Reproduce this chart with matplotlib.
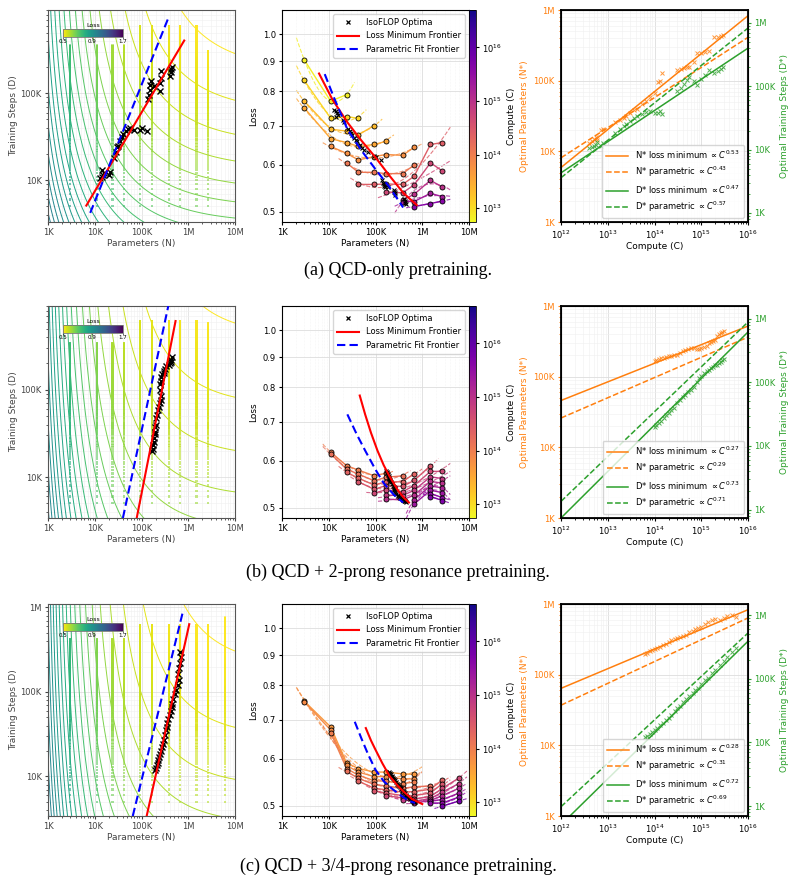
import numpy as np
import matplotlib.pyplot as plt
from matplotlib.colors import LogNorm
from matplotlib.cm import ScalarMappable
from matplotlib.lines import Line2D
from matplotlib.ticker import FuncFormatter, NullLocator, NullFormatter, FixedLocator

plt.rcParams['font.family'] = 'DejaVu Sans'
plt.rcParams['font.size'] = 6
plt.rcParams['xtick.labelsize'] = 6
plt.rcParams['ytick.labelsize'] = 6
plt.rcParams['axes.labelsize'] = 6.5
plt.rcParams['xtick.major.size'] = 2.5
plt.rcParams['ytick.major.size'] = 2.5
plt.rcParams['xtick.minor.size'] = 1.5
plt.rcParams['ytick.minor.size'] = 1.5
plt.rcParams['xtick.major.pad'] = 2
plt.rcParams['ytick.major.pad'] = 2

# ------------------------------------------------------------------
# datos
# ------------------------------------------------------------------
# tamaños de modelo entrenados (parametros)
model_sizes = [3e3, 1.1e4, 2.4e4, 4.3e4, 9.4e4, 1.67e5, 3.8e5, 6.7e5, 1.5e6, 2.7e6, 6.1e6]
ckpt_first = 5000   # primer checkpoint
ckpt_every = 1000   # paso entre checkpoints

# ---- (a) QCD-only -------------------------------------------------
fit_a = [0.43, 5.92, 0.40, 2.63, 0.30]          # E, A, alpha, B, beta
ckpt_max_a = [3.55e5, 3.55e5, 3.55e5, 3.55e5, 6e5, 6e5, 6e5, 6e5, 6e5, 3.1e5]

opt_C_a = [4.0e12, 4.5e12, 5.0e12, 5.5e12, 6.0e12, 7.0e12, 8.0e12, 1.4e13, 1.8e13, 2.2e13,
           2.5e13, 3.0e13, 3.6e13, 4.3e13, 5.5e13, 6.5e13, 8.0e13, 1.05e14, 1.2e14, 1.3e14,
           1.45e14, 3.0e14, 3.6e14, 4.2e14, 5.0e14, 5.6e14, 7.0e14, 8.0e14, 1.0e15, 1.2e15,
           1.5e15, 1.9e15, 2.3e15, 2.6e15, 2.9e15]
opt_N_a = [13e3, 14e3, 15e3, 16e3, 14.5e3, 20e3, 21e3, 26e3, 28e3, 30e3,
           32e3, 35e3, 38e3, 40e3, 47e3, 52e3, 58e3, 68e3, 95e3, 100e3,
           128e3, 140e3, 145e3, 150e3, 155e3, 158e3, 185e3, 245e3, 250e3, 255e3,
           262e3, 410e3, 420e3, 430e3, 440e3]
opt_D_a = [10.5e3, 11e3, 11.5e3, 12e3, 13e3, 11.5e3, 12.5e3, 18e3, 21e3, 24e3,
           25e3, 28e3, 31e3, 34e3, 37e3, 39e3, 40e3, 38e3, 38e3, 40e3,
           37e3, 85e3, 95e3, 110e3, 125e3, 140e3, 120e3, 105e3, 130e3, 150e3,
           180e3, 160e3, 175e3, 190e3, 200e3]
opt_L_a = [0.745, 0.74, 0.735, 0.73, 0.725, 0.715, 0.71, 0.69, 0.685, 0.68,
           0.675, 0.668, 0.662, 0.658, 0.648, 0.642, 0.636, 0.63, 0.622, 0.62,
           0.612, 0.565, 0.56, 0.556, 0.552, 0.55, 0.55, 0.545, 0.54, 0.537,
           0.533, 0.525, 0.521, 0.518, 0.515]

iso_C_a = [7e12, 1.2e13, 2.2e13, 3.5e13, 6e13, 1.2e14, 2.5e14, 5e14, 1e15, 2e15, 4e15]
iso_N_a = [[3e3, 1.1e4, 2.4e4],
           [3e3, 1.1e4, 2.4e4, 4.3e4],
           [3e3, 1.1e4, 2.4e4, 4.3e4, 9.4e4],
           [3e3, 1.1e4, 2.4e4, 4.3e4, 9.4e4, 1.67e5],
           [1.1e4, 2.4e4, 4.3e4, 9.4e4, 1.67e5, 3.8e5, 6.7e5],
           [2.4e4, 4.3e4, 9.4e4, 1.67e5, 3.8e5, 6.7e5],
           [4.3e4, 9.4e4, 1.67e5, 3.8e5, 6.7e5, 1.5e6, 2.7e6],
           [1.67e5, 3.8e5, 6.7e5, 1.5e6, 2.7e6],
           [3.8e5, 6.7e5, 1.5e6, 2.7e6],
           [3.8e5, 6.7e5, 1.5e6, 2.7e6],
           [6.7e5, 1.5e6, 2.7e6]]
iso_L_a = [[0.905, 0.77, 0.79],
           [0.835, 0.72, 0.725, 0.72],
           [0.77, 0.69, 0.685, 0.675, 0.70],
           [0.75, 0.665, 0.655, 0.645, 0.65, 0.658],
           [0.645, 0.628, 0.612, 0.62, 0.625, 0.623, 0.643],
           [0.605, 0.583, 0.583, 0.58, 0.58, 0.60],
           [0.556, 0.556, 0.557, 0.556, 0.574, 0.65, 0.655],
           [0.54, 0.538, 0.555, 0.605, 0.586],
           [0.523, 0.535, 0.565, 0.55],
           [0.52, 0.52, 0.537, 0.53],
           [0.51, 0.516, 0.521]]

red_N_a = [6.2e3, 1.2e4, 2.5e4, 5e4, 1e5, 2e5, 4e5, 7.6e5]
red_L_a = [0.858, 0.775, 0.709, 0.66, 0.618, 0.575, 0.537, 0.513]
blue_N_a = [8.2e3, 1.3e4, 2.5e4, 5e4, 1e5, 2e5, 3.9e5]
blue_L_a = [0.856, 0.78, 0.69, 0.635, 0.59, 0.55, 0.508]

left_red_a = [[6.6e3, 8.2e5], [5.1e3, 4.05e5]]
left_blue_a = [[8.0e3, 3.92e5], [4.2e3, 7.82e5]]

right_lines_a = [[5.9e3, 8.3e5], [8.1e3, 4.1e5], [4.3e3, 4.0e5], [3.6e3, 8.3e5]]
right_exp_a = ['0.53', '0.43', '0.47', '0.57']

# ---- (b) QCD + 2-prong --------------------------------------------
fit_b = [0.439, 12.73, 0.50, 0.81, 0.20]
ckpt_max_b = [3.4e5, 3.4e5, 3.4e5, 3.4e5, 6.1e5, 6.1e5, 6.1e5, 6.1e5, 6.1e5, 5.75e5]

opt_C_b = [1.0e14, 1.1e14, 1.25e14, 1.4e14, 1.6e14, 1.8e14, 2.0e14, 2.3e14, 2.6e14, 3.0e14,
           3.5e14, 4.0e14, 4.6e14, 5.3e14, 6.0e14, 7.0e14, 8.0e14, 9.0e14, 1.0e15, 1.15e15,
           1.3e15, 1.45e15, 1.6e15, 1.8e15, 2.0e15, 2.2e15, 2.4e15, 2.6e15, 2.8e15, 3.0e15]
opt_N_b = [168e3, 172e3, 178e3, 182e3, 186e3, 190e3, 195e3, 198e3, 202e3, 205e3,
           215e3, 230e3, 240e3, 250e3, 255e3, 258e3, 250e3, 245e3, 255e3, 265e3,
           275e3, 300e3, 310e3, 320e3, 330e3, 380e3, 400e3, 420e3, 430e3, 440e3]
opt_D_b = [20e3, 21e3, 23e3, 25e3, 28e3, 31e3, 33e3, 37e3, 40e3, 47e3,
           52e3, 58e3, 63e3, 70e3, 77e3, 85e3, 100e3, 115e3, 125e3, 140e3,
           150e3, 155e3, 165e3, 175e3, 185e3, 190e3, 200e3, 210e3, 222e3, 235e3]
opt_L_b = [0.578, 0.575, 0.572, 0.57, 0.567, 0.565, 0.562, 0.56, 0.557, 0.555,
           0.552, 0.548, 0.545, 0.542, 0.54, 0.538, 0.537, 0.536, 0.533, 0.53,
           0.528, 0.526, 0.524, 0.522, 0.52, 0.518, 0.516, 0.514, 0.513, 0.512]

iso_C_b = [1e14, 1.5e14, 2.2e14, 3.3e14, 5e14, 7.5e14, 1.1e15, 1.6e15, 2.4e15, 3.5e15, 5e15]
iso_N_b = [[1.1e4, 2.4e4, 4.3e4, 9.4e4, 1.67e5],
           [1.1e4, 2.4e4, 4.3e4, 9.4e4, 1.67e5, 3.8e5],
           [2.4e4, 4.3e4, 9.4e4, 1.67e5, 3.8e5, 6.7e5],
           [4.3e4, 9.4e4, 1.67e5, 3.8e5, 6.7e5, 1.5e6],
           [9.4e4, 1.67e5, 3.8e5, 6.7e5, 1.5e6, 2.7e6],
           [1.67e5, 3.8e5, 6.7e5, 1.5e6, 2.7e6],
           [1.67e5, 3.8e5, 6.7e5, 1.5e6, 2.7e6],
           [6.7e5, 1.5e6, 2.7e6],
           [6.7e5, 1.5e6, 2.7e6],
           [1.5e6, 2.7e6],
           [1.5e6, 2.7e6]]
iso_L_b = [[0.621, 0.589, 0.579, 0.566, 0.572],
           [0.617, 0.581, 0.57, 0.555, 0.563, 0.566],
           [0.574, 0.561, 0.546, 0.553, 0.553, 0.571],
           [0.553, 0.537, 0.545, 0.543, 0.556, 0.589],
           [0.529, 0.536, 0.532, 0.545, 0.576, 0.576],
           [0.525, 0.524, 0.535, 0.564, 0.56],
           [0.517, 0.515, 0.525, 0.554, 0.55],
           [0.516, 0.544, 0.54],
           [0.507, 0.535, 0.53],
           [0.528, 0.52],
           [0.522, 0.514]]

red_N_b = [4.6e4, 6e4, 8e4, 1.1e5, 1.5e5, 2e5, 3e5, 4e5, 5.2e5]
red_L_b = [0.775, 0.72, 0.67, 0.625, 0.59, 0.565, 0.535, 0.52, 0.51]
blue_N_b = [2.5e4, 4e4, 6e4, 1e5, 1.5e5, 2.5e5, 3.9e5]
blue_L_b = [0.72, 0.665, 0.625, 0.58, 0.55, 0.525, 0.51]

left_red_b = [[7.9e4, 5.35e5], [3.4e3, 6.12e5]]
left_blue_b = [[4.0e4, 3.74e5], [3.4e3, 9.08e5]]

right_lines_b = [[4.6e4, 5.2e5], [2.6e4, 3.63e5], [7.4e2, 6.17e5], [1.35e3, 8.85e5]]
right_exp_b = ['0.27', '0.29', '0.73', '0.71']

# ---- (c) QCD + 3/4-prong ------------------------------------------
fit_c = [0.449, 14.3, 0.50, 0.767, 0.222]
ckpt_max_c = [4.2e5, 4.2e5, 4.2e5, 4.2e5, 6.2e5, 6.2e5, 6.2e5, 6.2e5, 6.2e5, 6.2e5, 7.6e5]

opt_C_c = [6.3e13, 7e13, 8e13, 9e13, 1.0e14, 1.15e14, 1.3e14, 1.5e14, 1.75e14, 2.0e14,
           2.3e14, 2.7e14, 3.1e14, 3.5e14, 4.0e14, 4.7e14, 5.5e14, 6.5e14, 7.5e14, 8.5e14,
           1.0e15, 1.2e15, 1.4e15, 1.7e15, 2.0e15, 2.5e15, 3.0e15, 3.6e15, 4.5e15, 5.5e15]
opt_N_c = [195e3, 205e3, 215e3, 222e3, 230e3, 238e3, 250e3, 262e3, 275e3, 290e3,
           305e3, 320e3, 330e3, 345e3, 350e3, 365e3, 400e3, 420e3, 440e3, 460e3,
           480e3, 520e3, 560e3, 600e3, 620e3, 600e3, 640e3, 680e3, 700e3, 650e3]
opt_D_c = [12e3, 12.5e3, 13.5e3, 14.5e3, 15.5e3, 17e3, 18.5e3, 20e3, 22.5e3, 24.5e3,
           27e3, 31e3, 35e3, 38e3, 43e3, 48e3, 54e3, 60e3, 66e3, 72e3,
           82e3, 95e3, 105e3, 122e3, 138e3, 165e3, 190e3, 220e3, 260e3, 300e3]
opt_L_c = [0.57, 0.568, 0.565, 0.562, 0.56, 0.557, 0.555, 0.552, 0.548, 0.545,
           0.542, 0.54, 0.537, 0.535, 0.533, 0.53, 0.527, 0.525, 0.522, 0.52,
           0.518, 0.516, 0.514, 0.512, 0.511, 0.51, 0.509, 0.508, 0.507, 0.508]

iso_C_c = [5e13, 7e13, 1e14, 1.5e14, 2.2e14, 3.3e14, 5e14, 8e14, 1.3e15, 2.2e15, 3.5e15, 6e15]
iso_N_c = [[3e3, 1.1e4, 2.4e4, 4.3e4, 9.4e4, 1.67e5, 3.8e5, 6.7e5],
           [3e3, 1.1e4, 2.4e4, 4.3e4, 9.4e4, 1.67e5, 3.8e5, 6.7e5],
           [1.1e4, 2.4e4, 4.3e4, 9.4e4, 1.67e5, 3.8e5, 6.7e5],
           [2.4e4, 4.3e4, 9.4e4, 1.67e5, 3.8e5, 6.7e5, 1.5e6],
           [4.3e4, 9.4e4, 1.67e5, 3.8e5, 6.7e5, 1.5e6, 2.7e6],
           [9.4e4, 1.67e5, 3.8e5, 6.7e5, 1.5e6, 2.7e6],
           [1.67e5, 3.8e5, 6.7e5, 1.5e6, 2.7e6, 6.1e6],
           [3.8e5, 6.7e5, 1.5e6, 2.7e6, 6.1e6],
           [6.7e5, 1.5e6, 2.7e6, 6.1e6],
           [1.5e6, 2.7e6, 6.1e6],
           [1.5e6, 2.7e6, 6.1e6],
           [2.7e6, 6.1e6]]
iso_L_c = [[0.752, 0.68, 0.591, 0.578, 0.57, 0.57, 0.566, 0.565],
           [0.75, 0.672, 0.585, 0.57, 0.56, 0.56, 0.555, 0.555],
           [0.665, 0.578, 0.563, 0.551, 0.55, 0.545, 0.548],
           [0.572, 0.556, 0.543, 0.54, 0.535, 0.538, 0.54],
           [0.55, 0.535, 0.532, 0.527, 0.528, 0.533, 0.553],
           [0.53, 0.525, 0.52, 0.52, 0.525, 0.545],
           [0.52, 0.515, 0.513, 0.518, 0.535, 0.557],
           [0.512, 0.508, 0.514, 0.527, 0.545],
           [0.505, 0.51, 0.52, 0.535],
           [0.509, 0.512, 0.525],
           [0.505, 0.505, 0.517],
           [0.499, 0.509]]

red_N_c = [6.2e4, 8e4, 1e5, 1.4e5, 2e5, 3e5, 4e5, 6e5, 1e6]
red_L_c = [0.677, 0.645, 0.622, 0.59, 0.561, 0.54, 0.528, 0.513, 0.503]
blue_N_c = [3.6e4, 5e4, 7e4, 1e5, 1.5e5, 2.2e5, 3.5e5, 5e5, 7e5]
blue_L_c = [0.694, 0.65, 0.61, 0.575, 0.55, 0.535, 0.52, 0.51, 0.505]

left_red_c = [[1.29e5, 1.05e6], [3.4e3, 6.34e5]]
left_blue_c = [[6.5e4, 7.55e5], [3.4e3, 8.57e5]]

right_lines_c = [[6.4e4, 8.3e5], [3.7e4, 6.35e5], [5.1e2, 3.9e5], [9.8e2, 5.25e5]]
right_exp_c = ['0.28', '0.31', '0.72', '0.69']

captions = ['(a) QCD-only pretraining.',
            '(b) QCD + 2-prong resonance pretraining.',
            '(c) QCD + 3/4-prong resonance pretraining.']

# ------------------------------------------------------------------
# estilos
# ------------------------------------------------------------------
loss_levels = np.linspace(0.5, 1.7, 45)
orange = '#ff7f0e'
green = '#2ca02c'
C_ends = [1e12, 1e16]


def loss_norm():
    return LogNorm(0.5, 1.7)


def comp_norm():
    return LogNorm(5.5e12, 5e16)


def fmt_k(x, pos):
    if x >= 1e6:
        return f'{x/1e6:g}M'
    if x >= 1e3:
        return f'{x/1e3:g}K'
    return f'{x:g}'


def panel_izq(ax, fit, ckpt_max, opt_N, opt_D, red, blue, ylim):
    E, A, alpha, B, beta = fit
    n = np.logspace(3, 7, 300)
    d = np.logspace(3.4, 6.1, 300)
    NN, DD = np.meshgrid(n, d)
    LL = E + A * NN**-alpha + B * DD**-beta
    ax.contour(NN, DD, LL, levels=loss_levels, cmap='viridis_r', norm=loss_norm(),
               linewidths=0.7)
    # checkpoints de cada modelo
    for Nm, Dm in zip(model_sizes, ckpt_max):
        steps = np.arange(ckpt_first, Dm + 1, ckpt_every)
        loss = E + A * Nm**-alpha + B * steps**-beta
        ax.scatter(np.full(len(steps), Nm), steps, c=loss, cmap='viridis_r',
                   norm=loss_norm(), s=2.4, marker='s', linewidths=0, alpha=0.6, zorder=2)
    ax.plot(opt_N, opt_D, 'x', color='k', ms=3.8, mew=1.0, zorder=3)
    ax.plot(red[0], red[1], color='red', lw=1.5, zorder=4)
    ax.plot(blue[0], blue[1], color='blue', lw=1.5, ls=(0, (4, 2)), zorder=4)
    ax.set_xscale('log')
    ax.set_yscale('log')
    ax.set_xlim(1e3, 1e7)
    ax.set_ylim(*ylim)
    ax.xaxis.set_major_formatter(FuncFormatter(fmt_k))
    ax.yaxis.set_major_formatter(FuncFormatter(fmt_k))
    ax.xaxis.set_minor_formatter(NullFormatter())
    ax.yaxis.set_minor_formatter(NullFormatter())
    ax.grid(True, which='major', color='#dcdcdc', lw=0.5)
    ax.grid(True, which='minor', color='#efefef', lw=0.4)
    ax.set_xlabel('Parameters (N)', color='#444444', labelpad=1)
    ax.set_ylabel('Training Steps (D)', color='#444444', labelpad=2)
    ax.tick_params(colors='#444444', which='both')
    for s in ax.spines.values():
        s.set_color('#555555')
        s.set_linewidth(0.8)
    # barra de color pequeña
    cax = ax.inset_axes([0.08, 0.875, 0.32, 0.036])
    cb = plt.colorbar(ScalarMappable(norm=loss_norm(), cmap='viridis_r'), cax=cax,
                      orientation='horizontal')
    cb.set_ticks([0.5, 0.9, 1.7])
    cb.set_ticklabels(['0.5', '0.9', '1.7'])
    cb.minorticks_off()
    cb.ax.tick_params(labelsize=4, length=1.2, pad=0.8, width=0.4)
    cb.outline.set_edgecolor('#777777')
    cb.outline.set_linewidth(0.6)
    cax.set_title('Loss', fontsize=4.5, pad=1)


def panel_medio(ax, cax, iso_C, iso_N, iso_L, opt_N, opt_L, red_N, red_L, blue_N, blue_L):
    cnorm = comp_norm()
    for C, ns, ls in zip(iso_C, iso_N, iso_L):
        col = plt.cm.plasma_r(cnorm(C))
        x = np.log10(ns)
        coef = np.polyfit(x, ls, min(2, len(ns) - 1))
        xf = np.linspace(x.min() - 0.17, x.max() + 0.17, 60)
        ax.plot(10**xf, np.polyval(coef, xf), '--', color=col, lw=0.8, alpha=0.8, zorder=1)
        ax.plot(ns, ls, '-', color=col, lw=1.0, zorder=2)
        ax.scatter(ns, ls, color=col, edgecolors='k', s=13, linewidths=0.6, zorder=3)
    ax.plot(opt_N, opt_L, 'x', color='k', ms=3, mew=0.8, zorder=4)
    ax.plot(red_N, red_L, color='red', lw=1.5, zorder=5)
    ax.plot(blue_N, blue_L, color='blue', lw=1.5, ls=(0, (4, 2)), zorder=5)
    ax.set_xscale('log')
    ax.set_yscale('log')
    ax.set_xlim(1e3, 1e7)
    ax.set_ylim(0.48, 1.1)
    ax.xaxis.set_major_formatter(FuncFormatter(fmt_k))
    ax.xaxis.set_minor_formatter(NullFormatter())
    ax.yaxis.set_major_locator(FixedLocator([0.5, 0.6, 0.7, 0.8, 0.9, 1.0]))
    ax.yaxis.set_major_formatter(FuncFormatter(lambda v, p: f'{v:.1f}'))
    ax.yaxis.set_minor_locator(NullLocator())
    ax.yaxis.set_minor_formatter(NullFormatter())
    ax.grid(True, which='major', color='#dddddd', lw=0.6)
    ax.grid(True, which='minor', axis='x', color='#eeeeee', lw=0.4, ls=':')
    ax.set_xlabel('Parameters (N)', labelpad=1)
    ax.set_ylabel('Loss', labelpad=3)
    handles = [Line2D([], [], marker='x', color='k', ls='none', ms=3.5, mew=0.9),
               Line2D([], [], color='red', lw=1.5),
               Line2D([], [], color='blue', lw=1.5, ls=(0, (4, 2)))]
    ax.legend(handles, ['IsoFLOP Optima', 'Loss Minimum Frontier', 'Parametric Fit Frontier'],
              loc='upper right', fontsize=6, handlelength=2.6, borderpad=0.5, labelspacing=0.5)
    cb = plt.colorbar(ScalarMappable(norm=comp_norm(), cmap='plasma_r'), cax=cax)
    cb.minorticks_off()
    cb.ax.tick_params(labelsize=6, length=2)
    cb.set_label('Compute (C)', fontsize=6.5)
    cb.outline.set_linewidth(0.6)


def panel_der(ax, opt_C, opt_N, opt_D, lines, exps, ylim2):
    ax2 = ax.twinx()
    ax.plot(opt_C, opt_N, 'x', color=orange, ms=2.4, mew=0.7, alpha=0.8)
    ax2.plot(opt_C, opt_D, 'x', color=green, ms=2.4, mew=0.7, alpha=0.8)
    h1, = ax.plot(C_ends, lines[0], '-', color=orange, lw=1.1)
    h2, = ax.plot(C_ends, lines[1], '--', color=orange, lw=1.1)
    h3, = ax2.plot(C_ends, lines[2], '-', color=green, lw=1.1)
    h4, = ax2.plot(C_ends, lines[3], '--', color=green, lw=1.1)
    for a in (ax, ax2):
        a.set_xscale('log')
        a.set_yscale('log')
        a.yaxis.set_major_formatter(FuncFormatter(fmt_k))
        a.yaxis.set_minor_formatter(NullFormatter())
    ax.set_xlim(1e12, 1e16)
    ax.set_ylim(1e3, 1e6)
    ax2.set_ylim(*ylim2)
    ax.grid(True, which='major', color='#dddddd', lw=0.6)
    ax.grid(True, which='minor', color='#f0f0f0', lw=0.4)
    ax.tick_params(axis='y', colors=orange, which='both')
    ax2.tick_params(axis='y', colors=green, which='both')
    ax.set_xlabel('Compute (C)', labelpad=1)
    ax.set_ylabel('Optimal Parameters (N*)', color=orange, labelpad=3)
    ax2.set_ylabel('Optimal Training Steps (D*)', color=green, labelpad=3)
    for s in ax2.spines.values():
        s.set_linewidth(1.3)
    labels = [rf'N* loss minimum $\propto C^{{{exps[0]}}}$',
              rf'N* parametric $\propto C^{{{exps[1]}}}$',
              rf'D* loss minimum $\propto C^{{{exps[2]}}}$',
              rf'D* parametric $\propto C^{{{exps[3]}}}$']
    ax2.legend([h1, h2, h3, h4], labels, loc='lower right', fontsize=6,
               handlelength=2.6, borderpad=0.5, labelspacing=0.45)


# ------------------------------------------------------------------
# figura
# ------------------------------------------------------------------
fig = plt.figure(figsize=(7.96, 8.83), dpi=100)

W = 187 / 796
H = 212 / 883
x_izq, x_med, x_der, x_cb = 48 / 796, 282 / 796, 561 / 796, 469 / 796
y_rows = [1 - 222 / 883, 1 - 518 / 883, 1 - 816 / 883]
y_capt = [1 - 270 / 883, 1 - 572 / 883, 1 - 866 / 883]

filas = [
    (fit_a, ckpt_max_a, opt_C_a, opt_N_a, opt_D_a, opt_L_a, iso_C_a, iso_N_a, iso_L_a,
     red_N_a, red_L_a, blue_N_a, blue_L_a, left_red_a, left_blue_a, right_lines_a,
     right_exp_a, (3.3e3, 9.1e5), (7.2e2, 1.6e6)),
    (fit_b, ckpt_max_b, opt_C_b, opt_N_b, opt_D_b, opt_L_b, iso_C_b, iso_N_b, iso_L_b,
     red_N_b, red_L_b, blue_N_b, blue_L_b, left_red_b, left_blue_b, right_lines_b,
     right_exp_b, (3.4e3, 9.1e5), (7.4e2, 1.58e6)),
    (fit_c, ckpt_max_c, opt_C_c, opt_N_c, opt_D_c, opt_L_c, iso_C_c, iso_N_c, iso_L_c,
     red_N_c, red_L_c, blue_N_c, blue_L_c, left_red_c, left_blue_c, right_lines_c,
     right_exp_c, (3.4e3, 1.1e6), (7.0e2, 1.5e6)),
]

for i, f in enumerate(filas):
    (fit, ckmax, oC, oN, oD, oL, iC, iN, iL, rN, rL, bN, bL, lred, lblue,
     rlines, rexp, ylim_l, ylim_r) = f
    y0 = y_rows[i]
    ax1 = fig.add_axes([x_izq, y0, W, H])
    ax2 = fig.add_axes([x_med, y0, W, H])
    cax = fig.add_axes([x_cb, y0, 7 / 796, H])
    ax3 = fig.add_axes([x_der, y0, W, H])
    panel_izq(ax1, fit, ckmax, oN, oD, lred, lblue, ylim_l)
    panel_medio(ax2, cax, iC, iN, iL, oN, oL, rN, rL, bN, bL)
    panel_der(ax3, oC, oN, oD, rlines, rexp, ylim_r)
    fig.text(0.5, y_capt[i], captions[i], ha='center', va='center',
             family='Liberation Serif', fontsize=13)

fig.savefig('out.png', dpi=100)
